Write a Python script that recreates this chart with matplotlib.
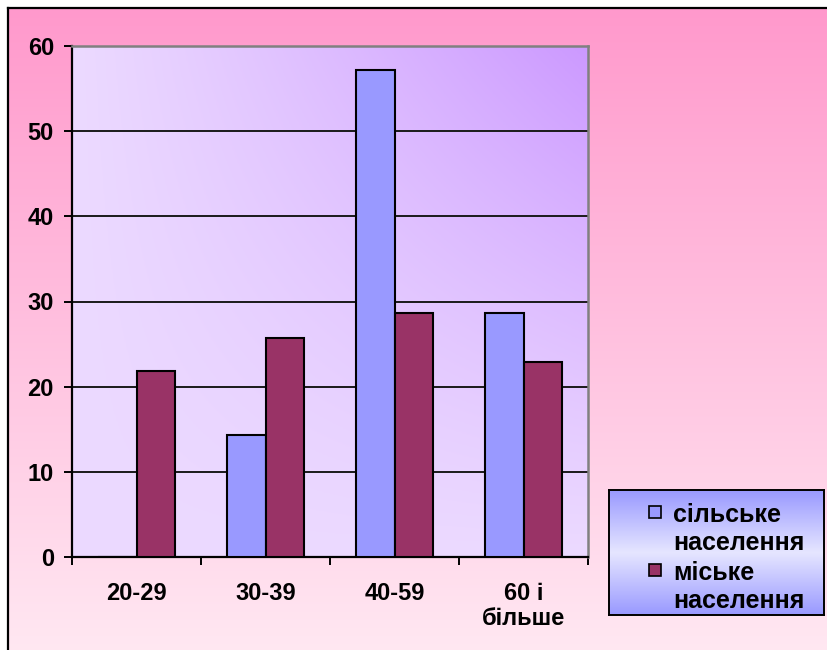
import numpy as np
import matplotlib
matplotlib.use("Agg")
import matplotlib.pyplot as plt
from matplotlib.patches import Rectangle
from matplotlib.lines import Line2D

# Age groups and shares (%) for rural and urban population
categories = ["20-29", "30-39", "40-59", "60 і\nбільше"]
rural = [0.0, 14.3, 57.2, 28.6]
urban = [21.8, 25.7, 28.6, 22.9]
series_names = [["сільське", "населення"], ["міське", "населення"]]
series_colors = ["#9999FF", "#993366"]
y_ticks = [0, 10, 20, 30, 40, 50, 60]

plt.rcParams["font.family"] = ["Liberation Sans", "DejaVu Sans"]
plt.rcParams["font.weight"] = "bold"

W, H, DPI = 827, 650, 100
fig = plt.figure(figsize=(W / DPI, H / DPI), dpi=DPI)
fig.patch.set_facecolor("white")


def px_axes(x0, y0, x1, y1, **kw):
    """Axes placed by pixel box (top-left origin)."""
    return fig.add_axes([x0 / W, 1 - y1 / H, (x1 - x0) / W, (y1 - y0) / H], **kw)


# Chart background: vertical pink gradient inside a frame
bg = px_axes(8, 8, W + 4, H + 4)
bg.set_axis_off()
t = np.linspace(0, 1, 256)[:, None]
top_c = np.array([255, 153, 204]) / 255
bot_c = np.array([255, 232, 242]) / 255
grad = top_c[None, None, :] * (1 - t[..., None]) + bot_c[None, None, :] * t[..., None]
grad = np.repeat(grad, 2, axis=1)
bg.imshow(grad, aspect="auto", extent=[0, 1, 0, 1], origin="upper",
          transform=bg.transAxes)
bg.set_xlim(0, 1)
bg.set_ylim(0, 1)
fig.add_artist(Line2D([8 / W, 8 / W], [0, 1 - 8 / H], color="black", lw=1.6))
fig.add_artist(Line2D([8 / W, 1], [1 - 8 / H, 1 - 8 / H], color="black", lw=1.6))

# Plot area
ax = px_axes(72, 46, 588, 557)
ny, nx = 200, 200
xx = np.linspace(0, 1, nx)[None, :]
yy = np.linspace(1, 0, ny)[:, None]
f = (xx * yy) ** 1.1
light = np.array([236, 218, 255]) / 255
purple = np.array([204, 153, 255]) / 255
plot_grad = light[None, None, :] * (1 - f[..., None]) + purple[None, None, :] * f[..., None]
ax.imshow(plot_grad, aspect="auto", extent=[0, 1, 0, 1], transform=ax.transAxes,
          zorder=0)

x = np.arange(len(categories))
bw = 0.295
ax.bar(x - bw / 2, rural, bw, color=series_colors[0], edgecolor="black",
       linewidth=1.5, zorder=3)
ax.bar(x + bw / 2, urban, bw, color=series_colors[1], edgecolor="black",
       linewidth=1.5, zorder=3)

ax.set_xlim(-0.5, len(categories) - 0.5)
ax.set_ylim(0, 60)
ax.set_yticks(y_ticks)
ax.set_yticklabels([str(v) for v in y_ticks], fontsize=17, fontweight="bold")
ax.yaxis.grid(True, color="#1a1a1a", linewidth=1.4, zorder=1)
ax.set_axisbelow(True)

ax.set_xticks(x)
ax.set_xticklabels(categories, fontsize=17, fontweight="bold",
                   multialignment="center", linespacing=1.1)
ax.set_xticks(np.arange(len(categories) + 1) - 0.5, minor=True)
ax.tick_params(axis="x", which="major", length=0, pad=18)
ax.tick_params(axis="x", which="minor", length=6, width=1.4, direction="out")
ax.tick_params(axis="y", length=6, width=1.4, direction="out", pad=7)

for side in ("left", "bottom"):
    ax.spines[side].set_color("black")
    ax.spines[side].set_linewidth(1.6)
for side in ("top", "right"):
    ax.spines[side].set_color("#808080")
    ax.spines[side].set_linewidth(1.8)

# Legend box with vertical blue gradient
LX0, LY0, LX1, LY1 = 609, 490, 824, 615
lax = px_axes(LX0, LY0, LX1, LY1)
lt = np.linspace(0, 1, 256)
lf = 1 - np.abs(lt - 0.5) * 2
blue = np.array([153, 153, 255]) / 255
pale = np.array([230, 230, 255]) / 255
lgrad = blue[None, :] * (1 - lf[:, None]) + pale[None, :] * lf[:, None]
lgrad = np.repeat(lgrad[:, None, :], 2, axis=1)
lax.imshow(lgrad, aspect="auto", extent=[0, 1, 0, 1], transform=lax.transAxes)
lax.set_xlim(LX0, LX1)
lax.set_ylim(LY1, LY0)
lax.set_aspect("auto")
lax.set_xticks([])
lax.set_yticks([])
for s in lax.spines.values():
    s.set_color("black")
    s.set_linewidth(1.4)

line_step = 29
first_line = 512
for i, (lines, col) in enumerate(zip(series_names, series_colors)):
    y_first = first_line + i * 2 * line_step
    lax.add_patch(Rectangle((649, y_first - 6), 11.5, 11.5, facecolor=col,
                            edgecolor="black", linewidth=1.2, zorder=3))
    for j, txt in enumerate(lines):
        lax.text(673, y_first + j * line_step, txt, fontsize=18,
                 fontweight="bold", va="center_baseline", ha="left", zorder=3)

fig.savefig("out.png", dpi=DPI)
